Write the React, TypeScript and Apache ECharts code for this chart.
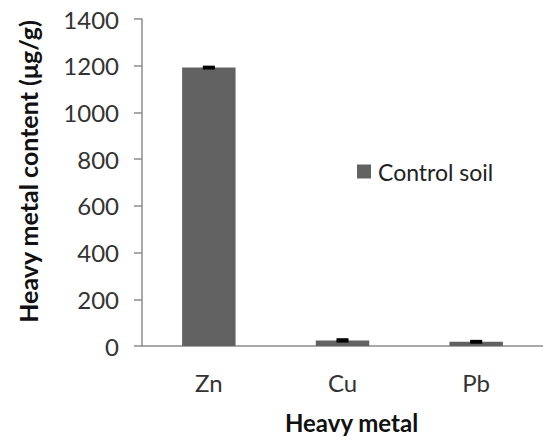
import React, { useEffect, useRef } from "react";
import * as echarts from "echarts";

const categories = ["Zn", "Cu", "Pb"];
const values = [1192, 24, 18];
const errors = [3, 4, 3];
const seriesName = "Control soil";
const xTitle = "Heavy metal";
const yTitle = "Heavy metal content (μg/g)";

export default function App() {
  const ref = useRef<HTMLDivElement>(null);
  useEffect(() => {
    if (!ref.current) return;
    const chart = echarts.init(ref.current, null, { renderer: "svg" });
    const font = "Lato, 'Open Sans', sans-serif";
    chart.setOption({
      animation: false,
      textStyle: { fontFamily: font },
      grid: { left: 142, top: 19, bottom: 94, right: -7, containLabel: false },
      legend: {
        data: [seriesName],
        left: 352,
        top: 155,
        itemWidth: 14,
        itemHeight: 14,
        icon: "rect",
        itemGap: 6,
        textStyle: { fontFamily: font, fontSize: 23, color: "#222", padding: [0, 0, 0, 2] },
      },
      xAxis: {
        type: "category",
        data: categories,
        name: xTitle,
        nameLocation: "middle",
        nameGap: 64,
        nameTextStyle: { fontFamily: font, fontSize: 24, fontWeight: "bold", color: "#111", padding: [0, 0, 0, 18] },
        axisLine: { lineStyle: { color: "#8c8c8c", width: 1.5 } },
        axisTick: { show: false },
        axisLabel: { fontFamily: font, fontSize: 24, color: "#333", margin: 24 },
      },
      yAxis: {
        type: "value",
        min: 0,
        max: 1400,
        interval: 200,
        name: yTitle,
        nameLocation: "middle",
        nameGap: 102,
        nameTextStyle: { fontFamily: font, fontSize: 25, fontWeight: "bold", color: "#111", padding: [0, 0, 0, 22] },
        axisLine: { show: true, lineStyle: { color: "#8c8c8c", width: 1.5 } },
        axisTick: { show: true, inside: false, length: 8, lineStyle: { color: "#8c8c8c", width: 1.5 } },
        splitLine: { show: false },
        axisLabel: { fontFamily: font, fontSize: 24, color: "#333", margin: 23, formatter: (v: number) => String(v) },
      },
      series: [
        {
          name: seriesName,
          type: "bar",
          data: values,
          barWidth: "40%",
          itemStyle: { color: "#626262" },
        },
        {
          type: "custom",
          name: "err",
          data: values.map((v, i) => [i, v - errors[i], v + errors[i]]),
          renderItem: (params: any, api: any) => {
            const x = api.value(0);
            const lo = api.coord([x, api.value(1)]);
            const hi = api.coord([x, api.value(2)]);
            const hw = 6;
            const style = { stroke: "#000", lineWidth: 2.5 };
            return {
              type: "group",
              children: [
                { type: "line", shape: { x1: hi[0], y1: hi[1], x2: hi[0], y2: lo[1] }, style },
                { type: "line", shape: { x1: hi[0] - hw, y1: hi[1], x2: hi[0] + hw, y2: hi[1] }, style },
                { type: "line", shape: { x1: lo[0] - hw, y1: lo[1], x2: lo[0] + hw, y2: lo[1] }, style },
              ],
            };
          },
          z: 5,
        },
      ],
    });
    return () => chart.dispose();
  }, []);
  return <div ref={ref} style={{ width: 543, height: 440, position: "absolute", left: 0, top: 0 }} />;
}
